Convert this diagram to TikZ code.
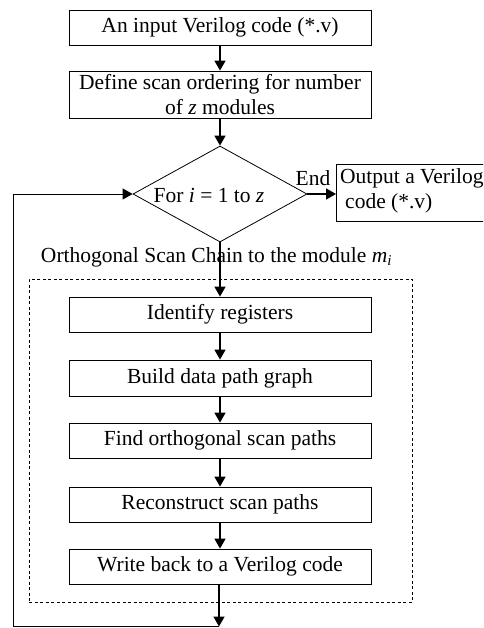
\documentclass[tikz,border=0pt]{standalone}
\usepackage{fontspec}
\setmainfont{Liberation Serif}
\usetikzlibrary{shapes.geometric,arrows.meta}
\begin{document}
\begin{tikzpicture}[x=1pt,y=-1pt,
  box/.style={draw, line width=0.8pt, minimum width=302pt, minimum height=35pt, inner sep=0pt, font=\fontsize{21.5}{25}\selectfont, align=center},
  arr/.style={line width=1.6pt, -{Triangle[length=10pt,width=11pt]}},
  thinarr/.style={line width=0.9pt, -{Triangle[length=10pt,width=11pt]}},
  txt/.style={font=\fontsize{21.5}{25}\selectfont, inner sep=0pt}]
\useasboundingbox (0,0) rectangle (483,628);
\clip (0,0) rectangle (483,628);

\node[box] (in) at (220,27.5) {An input Verilog code (*.v)};
\node[box, minimum height=47pt] (def) at (220,94.5) {Define scan ordering for number\\of \textit{z} modules};
\node[draw, line width=0.8pt, diamond, aspect=1.81, minimum width=174pt, minimum height=96pt, inner sep=0pt] (dec) at (220,194) {};
\node[txt] (dectxt) at (209,195) {For \textit{i} = 1 to \textit{z}};

\node[draw, line width=0.8pt, minimum width=170pt, minimum height=57pt, inner sep=0pt, anchor=west] (out) at (336,192.5) {};
\node[txt, anchor=west, align=left] (outtxt) at (340,191) {Output a Verilog\\\hspace*{5pt}code (*.v)};
\node[txt] (endlbl) at (313,178) {End};

\node[txt] (cap) at (216.5,257) {Orthogonal Scan Chain to the module \textit{m}\textsubscript{\textit{i}}};
\node[draw, dashed, line width=0.7pt, dash pattern=on 3pt off 2.5pt, minimum width=383pt, minimum height=323pt, inner sep=0pt] (frame) at (220.5,440.5) {};

\node[box] (b1) at (220,314.5) {Identify registers};
\node[box, minimum height=36pt] (b2) at (220,378) {Build data path graph};
\node[box] (b3) at (220,440.5) {Find orthogonal scan paths};
\node[box] (b4) at (220,504.5) {Reconstruct scan paths};
\node[box] (b5) at (220,566.5) {Write back to a Verilog code};

\coordinate (c1) at (219,626.5);
\coordinate (c2) at (13,626.5);

\draw[arr] (in) -- (def);
\draw[arr] (def) -- (dec.north);
\draw[arr] (dec.south) -- (b1);
\draw[arr] (b1) -- (b2);
\draw[arr] (b2) -- (b3);
\draw[arr] (b3) -- (b4);
\draw[arr] (b4) -- (b5);
\draw[arr] (b5.south -| c1) -- (c1);
\draw[thinarr] (c1) -- (c2) |- (dec.west);
\draw[arr] (dec.east) -- (dec.east -| out.west);
\end{tikzpicture}
\end{document}
